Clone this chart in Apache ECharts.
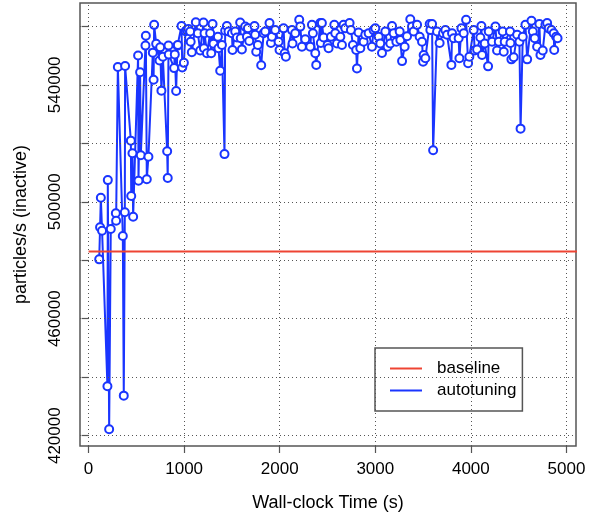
<!DOCTYPE html>
<html>
<head>
<meta charset="utf-8">
<script src="https://cdn.jsdelivr.net/npm/echarts@6/dist/echarts.min.js"></script>
<style>
html,body{margin:0;padding:0;background:#fff;}
#chart{width:591px;height:518px;}
</style>
</head>
<body>
<div id="chart"></div>
<script>
// Wall-clock time (s) of each autotuning measurement
var times = [
111,120,128,141,197,201,215,232,285,288,306,358,368,379,382,442,446,459,466,518,522,539,546,595,599,609,626,672,680,686,707,742,749,762,777,822,828,836,839,895,902,916,930,
934,972,980,997,1014,1028,1045,1063,1068,1080,1122,1143,1168,1202,1207,1213,1238,1272,1283,1297,1307,1353,1359,1377,1395,1422,1429,1447,1464,1500,1506,1534,1552,1586,1592,1604,
1639,1657,1667,1681,1736,1743,1754,1771,1806,1831,1848,1893,1908,1918,1953,1988,1998,2040,2052,2064,2128,2134,2162,2204,2215,2232,2267,2319,2337,2347,2372,2382,2424,2430,2441,
2459,2501,2511,2536,2571,2581,2599,2634,2651,2668,2686,2731,2745,2766,2800,2808,2825,2843,2878,2895,2930,2965,2982,3000,3035,3052,3070,3105,3129,3157,3175,3192,3220,3255,3262,
3280,3307,3332,3366,3384,3401,3437,3464,3489,3500,3506,3524,3569,3576,3594,3605,3646,3673,3709,3733,3751,3796,3803,3820,3872,3880,3901,3925,3950,3971,3984,4029,4040,4065,4099,
4110,4117,4145,4180,4187,4222,4257,4274,4292,4333,4344,4354,4410,4414,4424,4448,4484,4508,4520,4543,4571,4589,4634,4648,4668,4693,4717,4728,4752,4780,4798,4815,4843,4867,4872,4892,4907
];
// particles/s (inactive) for the autotuning run
var throughput = [
480300,491300,501400,490100,436900,507400,422200,490700,496100,493500,546100,488300,433700,496400,546400,520900,502000,516600,494900,550000,507200,544300,515900,553400,556800,507700,515400,551000,541700,560500,554000,548300,552800,538000,549600,517300,508100,553400,550400,545700,550400,537900,553400,
553600,560100,545900,547500,558300,558700,559100,558200,554700,551100,561400,557600,551700,561300,552500,557600,550800,557600,550800,560800,554000,556400,552500,544800,553600,516300,558500,560100,558200,557600,551900,558200,556200,561300,555900,552100,
559900,556400,559300,555000,560100,557100,551300,553600,546700,557600,558200,561100,554300,556400,558700,554700,551900,559300,550800,549600,558700,554100,557600,562200,559900,553000,555600,553000,560500,557600,550800,546800,561100,554300,561100,
556200,553600,552500,556400,560500,557600,554100,556400,553600,560500,559300,561100,558700,553600,551900,545600,557900,552500,554700,557100,557600,553000,558700,559300,556400,554100,550900,558200,553000,554100,560100,557600,554700,558200,555300,
548100,553000,556600,562400,559900,558200,560500,556400,554700,547900,550200,549100,560800,558700,560800,517600,558200,554300,557600,558700,557100,546800,557600,555900,555900,549100,559300,557600,562200,547400,549600,558700,551700,552100,556200,
560100,550200,554100,546300,558200,554700,559900,551700,554700,558200,551300,554700,558200,554300,548700,549400,557100,554700,525000,556400,560500,548700,561900,558200,555900,553000,560800,550200,551700,560500,561100,559300,558700,557600,551900,556400,555900
];
var baselineValue = 483000;
var baselineSpan = [0, 5200];
var xTicks = [0, 1000, 2000, 3000, 4000, 5000];
var yTicks = [420000, 440000, 460000, 480000, 500000, 520000, 540000, 560000];
var yLabelTicks = [420000, 460000, 500000, 540000];
var seriesNames = ['baseline', 'autotuning'];

var autoData = times.map(function (t, i) { return [t, throughput[i]]; });
var baseData = baselineSpan.map(function (t) { return [t, baselineValue]; });

var FONT = 'Liberation Sans, Arial, Helvetica, sans-serif';
var BLUE = '#1a35ff';
var RED = '#ee4433';
var GRID = '#555555';

var gridLines = xTicks.map(function (v) { return {xAxis: v}; })
  .concat(yTicks.map(function (v) { return {yAxis: v}; }));

function plain(v) { return String(v); }

var chart = echarts.init(document.getElementById('chart'), null, {renderer: 'canvas'});
chart.setOption({
  animation: false,
  backgroundColor: '#ffffff',
  grid: {
    left: 80, top: 3, right: 15, bottom: 72,
    show: true, borderColor: '#555555', borderWidth: 1.5, backgroundColor: 'transparent'
  },
  xAxis: {
    type: 'value', min: -90, max: 5100,
    name: 'Wall-clock Time (s)', nameLocation: 'middle', nameGap: 48,
    nameTextStyle: {fontFamily: FONT, fontSize: 18, color: '#000'},
    axisLine: {show: false},
    axisTick: {show: true, customValues: xTicks, length: 7, inside: false, lineStyle: {color: '#555', width: 1.2}},
    axisLabel: {customValues: xTicks, formatter: plain, margin: 15, fontFamily: FONT, fontSize: 17, color: '#000'},
    splitLine: {show: false}
  },
  yAxis: {
    type: 'value', min: 416480, max: 567970,
    name: 'particles/s (inactive)', nameLocation: 'middle', nameGap: 50,
    nameTextStyle: {fontFamily: FONT, fontSize: 18, color: '#000'},
    axisLine: {show: false},
    axisTick: {show: true, customValues: yTicks, length: 7, inside: false, lineStyle: {color: '#555', width: 1.2}},
    axisLabel: {customValues: yLabelTicks, formatter: plain, rotate: 90, margin: 16, fontFamily: FONT, fontSize: 17, color: '#000'},
    splitLine: {show: false}
  },
  legend: {
    orient: 'vertical', left: 375, top: 348,
    data: [
      {name: seriesNames[0], icon: 'rect', itemStyle: {borderWidth: 0, color: RED}},
      {name: seriesNames[1], icon: 'rect', itemStyle: {borderWidth: 0, color: BLUE}}
    ],
    itemWidth: 32, itemHeight: 2, itemGap: 5,
    padding: [12, 6, 12, 15],
    borderColor: '#555', borderWidth: 1.5, borderRadius: 0,
    backgroundColor: '#fff',
    textStyle: {fontFamily: FONT, fontSize: 17, color: '#000', padding: [0, 0, 0, 10]}
  },
  series: [
    {
      name: 'grid', type: 'line', data: [], silent: true, z: 1,
      markLine: {
        silent: true, symbol: 'none', animation: false,
        label: {show: false},
        lineStyle: {color: GRID, width: 1, type: [1, 3]},
        emphasis: {disabled: true},
        data: gridLines
      }
    },
    {
      name: seriesNames[1], type: 'line', data: autoData,
      symbol: 'emptyCircle', symbolSize: 8, showSymbol: true,
      lineStyle: {color: BLUE, width: 2},
      itemStyle: {color: BLUE, borderColor: BLUE, borderWidth: 1.8},
      z: 3, clip: true
    },
    {
      name: seriesNames[0], type: 'line', data: baseData,
      symbol: 'none', lineStyle: {color: RED, width: 2}, itemStyle: {color: RED},
      z: 4, clip: true
    }
  ]
});
</script>
</body>
</html>
